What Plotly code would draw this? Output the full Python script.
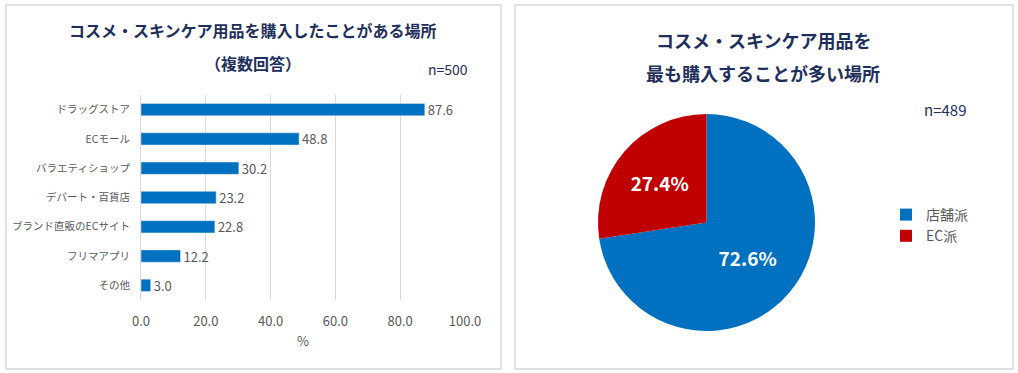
import plotly.graph_objects as go

categories = ["ドラッグストア", "ECモール", "バラエティショップ", "デパート・百貨店",
              "ブランド直販のECサイト", "フリマアプリ", "その他"]
values = [87.6, 48.8, 30.2, 23.2, 22.8, 12.2, 3.0]
x_ticks = [0, 20, 40, 60, 80, 100]
x_tick_labels = ["0.0", "20.0", "40.0", "60.0", "80.0", "100.0"]

pie_labels = ["店舗派", "EC派"]
pie_values = [72.6, 27.4]

W, H = 1018, 373
FONT = "Noto Sans CJK JP, Meiryo, sans-serif"
NAVY = "#1F2F5C"
GRAY = "#595959"
BLUE = "#0070C0"
RED = "#C00000"

def px(x):
    return x / W

def py(y):
    return 1 - y / H

def ann(text, x, y, size, bold=False):
    return dict(text=f"<b>{text}</b>" if bold else text, xref="paper", yref="paper",
                x=px(x), y=py(y), xanchor="center", yanchor="middle", showarrow=False,
                font=dict(family=FONT, size=size, color=NAVY))

fig = go.Figure()

fig.add_trace(go.Bar(
    x=values, y=categories, orientation="h",
    marker=dict(color=BLUE), width=0.42,
    text=[f"{v:.1f}" for v in values], textposition="outside", constraintext="none",
    textfont=dict(family=FONT, size=13, color=GRAY),
    cliponaxis=False, showlegend=False, hoverinfo="skip",
))

fig.add_trace(go.Pie(
    labels=pie_labels, values=pie_values, sort=False, direction="clockwise",
    rotation=0, marker=dict(colors=[BLUE, RED], line=dict(color="white", width=0)),
    texttemplate="<b>%{value:.1f}%</b>", textposition="inside", insidetextorientation="horizontal",
    textfont=dict(family=FONT, size=19, color="white"),
    domain=dict(x=[px(598), px(815)], y=[py(331), py(114)]),
    showlegend=True, hoverinfo="skip",
))

fig.update_layout(
    width=W, height=H,
    margin=dict(l=0, r=0, t=0, b=0, autoexpand=False),
    paper_bgcolor="white", plot_bgcolor="white",
    font=dict(family=FONT, color=GRAY),
    xaxis=dict(domain=[px(141), px(465)], range=[0, 100], tickvals=x_ticks,
               ticktext=x_tick_labels, showgrid=True, gridcolor="#D9D9D9", gridwidth=1,
               zeroline=False, showline=False, ticks="", automargin=False,
               ticklabelstandoff=12,
               tickfont=dict(family=FONT, size=13, color=GRAY),
               title=dict(text="%", font=dict(family=FONT, size=13, color=GRAY), standoff=7),
               fixedrange=True),
    yaxis=dict(domain=[py(300), py(95)], autorange="reversed", automargin=False,
               showgrid=False, zeroline=False, showline=True, linecolor="#D9D9D9",
               ticks="", ticklabelstandoff=8,
               tickfont=dict(family=FONT, size=10.5, color=GRAY), fixedrange=True),
    legend=dict(x=px(886), y=py(199), xanchor="left", yanchor="top",
                font=dict(family=FONT, size=14, color=GRAY),
                itemwidth=30, bgcolor="rgba(0,0,0,0)"),
    shapes=[
        dict(type="rect", xref="paper", yref="paper", x0=px(6), x1=px(501), y0=py(369), y1=py(5),
             line=dict(color="#D9D9D9", width=1.5)),
        dict(type="rect", xref="paper", yref="paper", x0=px(515), x1=px(1013), y0=py(369), y1=py(5),
             line=dict(color="#D9D9D9", width=1.5)),
    ],
    annotations=[
        ann("コスメ・スキンケア用品を購入したことがある場所", 253, 30, 16, True),
        ann("（複数回答）", 253, 63, 16, True),
        ann("n=500", 448, 69, 14),
        ann("コスメ・スキンケア用品を", 763, 40, 18, True),
        ann("最も購入することが多い場所", 763, 73, 18, True),
        ann("n=489", 945, 110, 15),
    ],
)

fig.write_html("out.html", config={"displayModeBar": False},
               post_script="document.body.style.margin='0';document.body.style.overflow='hidden';")
